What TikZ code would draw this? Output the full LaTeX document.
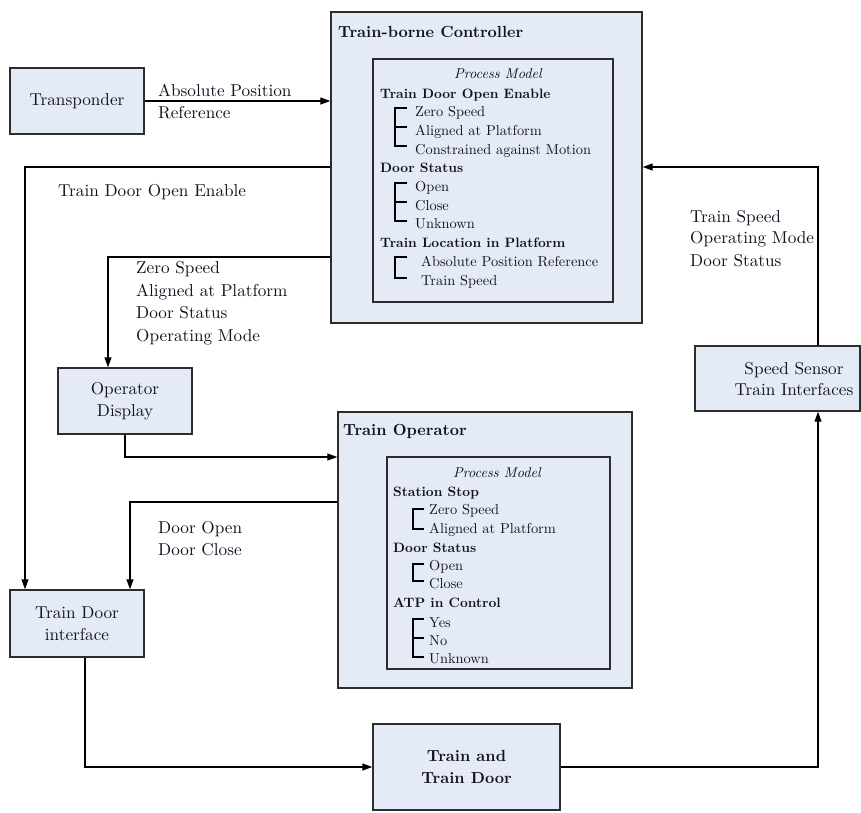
\documentclass[tikz,border=0pt]{standalone}
\usepackage{fontspec}
\setmainfont{lmroman10}[Extension=.otf, UprightFont=*-regular, BoldFont=*-bold, ItalicFont=*-italic, BoldItalicFont=*-bolditalic]
\usetikzlibrary{arrows.meta}
\definecolor{boxfill}{RGB}{229,235,246}
\definecolor{edgec}{RGB}{45,45,45}
\definecolor{ink}{RGB}{18,18,34}
\newcommand\mainfs{\fontsize{17.2}{21.5}\selectfont}
\newcommand\titlefs{\fontsize{16.1}{21.5}\selectfont\bfseries}
\newcommand\pmfs{\fontsize{14.4}{18.6}\selectfont}
\newcommand\pmhfs{\fontsize{13.6}{18.6}\selectfont\bfseries}
\newcommand\pmifs{\fontsize{14.3}{18.6}\selectfont\itshape}
\begin{document}
\begin{tikzpicture}[x=1pt,y=-1pt,
  box/.style={draw=edgec, line width=1.4pt, fill=boxfill, inner sep=0pt, text=ink, font=\mainfs, align=center},
  inbox/.style={draw=edgec, line width=1.4pt, inner sep=0pt},
  lbl/.style={anchor=base west, inner sep=0pt, text=ink, font=\mainfs},
  pm/.style={anchor=base west, inner sep=0pt, text=ink, font=\pmfs},
  pmh/.style={anchor=base west, inner sep=0pt, text=ink, font=\pmhfs},
  pmi/.style={anchor=base, inner sep=0pt, text=ink, font=\pmifs},
  conn/.style={draw=black, line width=1.2pt, -{Triangle[length=10pt,width=7pt]}},
  brk/.style={draw=black, line width=1.2pt}
]
\useasboundingbox (0,0) rectangle (861,812);

% boxes
\node[box, minimum width=134pt, minimum height=66pt] (tp) at (77,101) {Transponder};
\node[box, minimum width=311pt, minimum height=311pt] (tbc) at (486.5,167.5) {};
\node[inbox, minimum width=240pt, minimum height=243pt] (tbcin) at (493,180.5) {};
\node[box, minimum width=134pt, minimum height=66pt] (od) at (125,401) {Operator\\Display};
\node[box, minimum width=294pt, minimum height=276pt] (tro) at (485,550) {};
\node[inbox, minimum width=223pt, minimum height=212pt] (troin) at (498.5,563) {};
\node[box, minimum width=134pt, minimum height=67pt] (tdi) at (77,623.5) {Train Door\\interface};
\node[box, minimum width=187pt, minimum height=86pt, font=\titlefs] (ttd) at (466.5,767) {Train and\\Train Door};
\node[box, minimum width=165pt, minimum height=65pt] (ss) at (777.5,378.5) {};
\node[inner sep=0pt, text=ink, font=\mainfs, align=center] (sst) at (794,379) {Speed Sensor\\Train Interfaces};

% controller contents
\node[lbl, font=\titlefs] (tbct) at (338,37) {Train-borne Controller};
\node[pmi] (pm1) at (498,78) {Process Model};
\node[pmh] (c1) at (380,98) {Train Door Open Enable};
\node[pm] (c2) at (415,116.7) {Zero Speed};
\node[pm] (c3) at (415,135.4) {Aligned at Platform};
\node[pm] (c4) at (415,154.1) {Constrained against Motion};
\node[pmh] (c5) at (380,172.8) {Door Status};
\node[pm] (c6) at (415,191.5) {Open};
\node[pm] (c7) at (415,210.2) {Close};
\node[pm] (c8) at (415,228.9) {Unknown};
\node[pmh] (c9) at (380,247.6) {Train Location in Platform};
\node[pm] (c10) at (421,266.3) {Absolute Position Reference};
\node[pm] (c11) at (421,285) {Train Speed};
\draw[brk] (407,108) -| (395,146) -- (407,146);
\draw[brk] (395,127) -- (407,127);
\draw[brk] (407,183) -| (395,221) -- (407,221);
\draw[brk] (395,202) -- (407,202);
\draw[brk] (407,257) -| (395,278) -- (407,278);

% operator contents
\node[lbl, font=\titlefs] (trot) at (343,435) {Train Operator};
\node[pmi] (pm2) at (497,477) {Process Model};
\node[pmh] (o1) at (393,496) {Station Stop};
\node[pm] (o2) at (429,514) {Zero Speed};
\node[pm] (o3) at (429,533) {Aligned at Platform};
\node[pmh] (o4) at (393,552) {Door Status};
\node[pm] (o5) at (429,570) {Open};
\node[pm] (o6) at (429,588) {Close};
\node[pmh] (o7) at (393,607) {ATP in Control};
\node[pm] (o8) at (429,627) {Yes};
\node[pm] (o9) at (429,645) {No};
\node[pm] (o10) at (429,663) {Unknown};
\draw[brk] (424,509) -| (413,529) -- (424,529);
\draw[brk] (424,564) -| (413,581) -- (424,581);
\draw[brk] (424,619) -| (413,657) -- (424,657);
\draw[brk] (413,638) -- (424,638);

% connectors
\draw[conn] (tp.east) -- (tp.east -| tbc.west);
\draw[conn] (tbc.west |- 0,167) -| (25,0 |- tdi.north);
\draw[conn] (tbc.west |- 0,257) -| (108,0 |- od.north);
\draw[conn] (od.south) |- (tro.west |- 0,457);
\draw[conn] (tro.west |- 0,502) -| (130,0 |- tdi.north);
\draw[conn] (85,0 |- tdi.south) |- (ttd.west);
\draw[conn] (ttd.east) -| (818,0 |- ss.south);
\draw[conn] (818,0 |- ss.north) |- (tbc.east |- 0,167);

% connector labels
\node[lbl] (l1a) at (158,96) {Absolute Position};
\node[lbl] (l1b) at (158,118) {Reference};
\node[lbl] (l2) at (58,196) {Train Door Open Enable};
\node[lbl] (l3a) at (136,273) {Zero Speed};
\node[lbl] (l3b) at (136,296) {Aligned at Platform};
\node[lbl] (l3c) at (136,318) {Door Status};
\node[lbl] (l3d) at (136,341) {Operating Mode};
\node[lbl] (l4a) at (158,533) {Door Open};
\node[lbl] (l4b) at (158,555) {Door Close};
\node[lbl] (l5a) at (690,222) {Train Speed};
\node[lbl] (l5b) at (690,243) {Operating Mode};
\node[lbl] (l5c) at (690,266) {Door Status};
\end{tikzpicture}
\end{document}
